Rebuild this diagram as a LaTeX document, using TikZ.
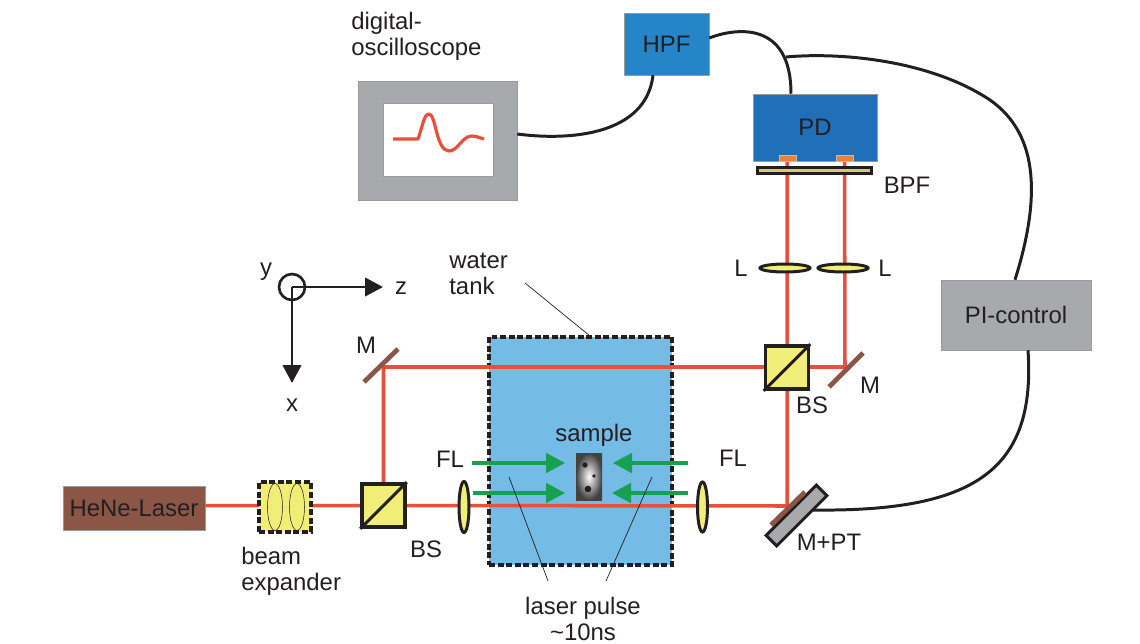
\documentclass[tikz,border=0pt]{standalone}
\usepackage{fontspec}
\setmainfont{Liberation Sans}
\usepackage{xcolor}
\usepackage{tikz}
\usetikzlibrary{arrows.meta,positioning,calc,shapes.geometric}
\definecolor{Ink}{HTML}{231F20}
\definecolor{Case}{HTML}{A7A9AC}
\definecolor{Tank}{HTML}{74BBE6}
\definecolor{Filter}{HTML}{2585C7}
\definecolor{Diode}{HTML}{1F70B8}
\definecolor{Optic}{HTML}{F1EE78}
\definecolor{Brown}{HTML}{8C5647}
\definecolor{Pad}{HTML}{E8823A}
\definecolor{Beam}{HTML}{E8503A}
\definecolor{Pump}{HTML}{17A04F}
\tikzset{
  txt/.style={font=\fontsize{13.6}{14.8}\selectfont,text=Ink,inner sep=0pt,align=left},
  box/.style={inner sep=0pt,font=\fontsize{13.6}{14.8}\selectfont,text=Ink,draw=Ink!45,line width=0.3pt},
  cube/.style={rectangle,draw=Ink,fill=Optic,line width=2pt,minimum size=0.86cm,inner sep=0pt},
  lens/.style={ellipse,draw=Ink,fill=Optic,line width=1.7pt,inner sep=0pt},
  thinlens/.style={ellipse,draw=Ink,line width=0.3pt,inner sep=0pt,minimum width=0.3cm,minimum height=0.94cm},
  beam/.style={draw=Beam,line width=2pt},
  wire/.style={draw=Ink,line width=1.7pt},
  mirror/.style={draw=Brown,line width=2.7pt},
  pump/.style={draw=Pump,line width=1.8pt,-{Triangle[length=3.8mm,width=3.9mm]}},
  axis/.style={draw=Ink,line width=1.5pt,-{Triangle[length=3.6mm,width=3.7mm]}},
  leader/.style={draw=Ink,line width=0.4pt},
  dashbox/.style={draw=Ink,line width=2pt,dash pattern=on 3.4pt off 1.5pt}
}
\begin{document}
\begin{tikzpicture}[x=0.02cm,y=-0.02cm]
  \useasboundingbox (0,0) rectangle (1140,643);
  % water tank first, beams run over it
  \node[dashbox,fill=Tank,minimum width=3.66cm,minimum height=4.56cm,inner sep=0pt] (tank) at (580.5,451) {};

  % boxes
  \node[box,fill=Case,minimum width=3.18cm,minimum height=2.38cm] (osc) at (437.5,140.5) {};
  \node[box,fill=white,minimum width=2.2cm,minimum height=1.46cm] (screen) at (438.5,139.5) {};
  \node[box,fill=Filter,minimum width=1.7cm,minimum height=1.24cm] (hpf) at (666.5,44) {HPF};
  \node[box,fill=Diode,minimum width=2.48cm,minimum height=1.34cm] (pd) at (815,127.5) {};
  \node[txt] (pdlabel) at (815,127) {PD};
  \node[box,fill=Case,minimum width=3cm,minimum height=1.4cm] (pi) at (1016,315) {PI-control};
  \node[box,fill=Brown,minimum width=2.84cm,minimum height=0.88cm] (hene) at (134,508) {HeNe-Laser};

  % anchor points of the beams
  \coordinate (mone) at (383.5,367);
  \coordinate (mtwo) at (845,367);
  \coordinate (mpt) at (787,506);
  \coordinate (pada) at (787,158);
  \coordinate (padb) at (844.5,158);

  % beams
  \node[inner sep=0pt,minimum size=0pt] (bsb) at (787,367.5) {};
  \node[inner sep=0pt,minimum size=0pt] (bsa) at (383.5,505.5) {};
  \draw[beam] (hene.east |- bsa) -- (bsa.center) -- (mpt) -- (bsb.center) -- (pada);
  \draw[beam] (bsa.center) -- (mone) -- (mtwo) -- (padb);

  % expander
  \node[dashbox,fill=Optic,minimum width=1.04cm,minimum height=1cm,inner sep=0pt] (expander) at (285,507) {};
  \node[thinlens] (expa) at (275,507) {};
  \node[thinlens] (expb) at (297,507) {};

  % splitters
  \node[cube] (bsone) at (bsa) {};
  \draw[draw=Ink,line width=1.7pt] (bsone.south west) -- (bsone.north east);
  \node[cube] (bstwo) at (bsb) {};
  \draw[draw=Ink,line width=1.7pt] (bstwo.south west) -- (bstwo.north east);

  % lenses
  \node[lens,minimum width=0.2cm,minimum height=1.02cm] (fla) at (464,507) {};
  \node[lens,minimum width=0.2cm,minimum height=1.0cm] (flb) at (702.5,507) {};
  \node[lens,minimum width=1cm,minimum height=0.16cm] (la) at (785,268) {};
  \node[lens,minimum width=1cm,minimum height=0.16cm] (lb) at (843,268) {};

  % mirrors
  \draw[mirror] (364,382) -- (398,349);
  \draw[mirror] (829,387) -- (863,353);
  \node[draw=Ink,fill=Case,line width=1.7pt,rotate=45,minimum width=1.42cm,minimum height=0.3cm,inner sep=0pt] (pt) at (796.5,515.5) {};
  \draw[mirror] (771,525) -- (805,492);

  % detector parts
  \node[fill=Pad,draw=Ink!30,line width=0.2pt,minimum width=0.34cm,minimum height=0.12cm,inner sep=0pt] (padl) at (787.5,158) {};
  \node[fill=Pad,draw=Ink!30,line width=0.2pt,minimum width=0.34cm,minimum height=0.12cm,inner sep=0pt] (padr) at (844.5,158) {};
  \node[draw=Ink,fill=Optic!85!Ink,line width=1.5pt,minimum width=2.28cm,minimum height=0.12cm,inner sep=0pt] (bpf) at (814.5,170.5) {};

  % sample
  \node[shade,inner color=white,outer color=Ink!85,minimum width=0.52cm,minimum height=0.94cm,inner sep=0pt] (sample) at (589,476.5) {};
  \fill[Ink] (585,465) circle[radius=2.7];
  \fill[Ink] (594,476) circle[radius=1.9];
  \fill[Ink] (588,489) circle[radius=3.3];
  \coordinate (pumpa) at (565,463);
  \coordinate (pumpb) at (565,493);
  \coordinate (pumpc) at (613,463);
  \coordinate (pumpd) at (612,493);
  \draw[pump] (472,463) -- (pumpa);
  \draw[pump] (473,493) -- (pumpb);
  \draw[pump] (688,463) -- (pumpc);
  \draw[pump] (688,493) -- (pumpd);

  % trace on the screen
  \draw[draw=Beam,line width=1.8pt,line join=round] (393,139) -- (418,139) .. controls (423,125) and (424,114) .. (429,114) .. controls (436,114) and (436,151) .. (449,151) .. controls (458,151) and (462,136) .. (472,136) .. controls (476,136) and (480,138) .. (484,139);

  % cables
  \draw[wire] (osc.east |- 0,134) .. controls (570,141) and (646,135) .. (hpf.south -| 653,0);
  \draw[wire] (hpf.east |- 0,38) .. controls (735,28) and (791,20) .. (pd.north -| 791,0);
  \coordinate (join) at (786,57);
  \draw[wire] (join) .. controls (840,52) and (930,60) .. (990,100) .. controls (1040,135) and (1040,200) .. (pi.north -| 1015,0);
  \draw[wire] (pi.south -| 1028,0) .. controls (1036,470) and (975,512) .. (813,510);

  % axes
  \node[draw=Ink,circle,line width=1.5pt,minimum size=0.52cm,inner sep=0pt] (origin) at (292,287) {};
  \coordinate (zend) at (383,287);
  \coordinate (xend) at (292,383);
  \draw[axis] (origin.center) -- (zend);
  \draw[axis] (origin.center) -- (xend);

  % leaders
  \coordinate (tanktip) at (590,336);
  \coordinate (pulsea) at (509,477);
  \coordinate (pulseb) at (652,477);
  \draw[leader] (525,283) -- (tanktip);
  \draw[leader] (pulsea) -- (548,581);
  \draw[leader] (pulseb) -- (606,581);

  % labels
  \node[txt,anchor=west] (scopelabel) at (351,36) {digital-\\oscilloscope};
  \node[txt,anchor=west] (tanklabel) at (449,274) {water\\tank};
  \node[txt] (ylabel) at (266,272) {y};
  \node[txt] (zlabel) at (401,288) {z};
  \node[txt] (xlabel) at (292,405) {x};
  \node[txt] (mlabela) at (366,345) {M};
  \node[txt] (mlabelb) at (870,385) {M};
  \node[txt] (bslabela) at (426,549) {BS};
  \node[txt] (bslabelb) at (812,405) {BS};
  \node[txt] (fllabela) at (450,459) {FL};
  \node[txt] (fllabelb) at (733,458) {FL};
  \node[txt] (samplelabel) at (594,435) {sample};
  \node[txt] (mptlabel) at (829,542) {M+PT};
  \node[txt] (bpflabel) at (907,185) {BPF};
  \node[txt] (llabela) at (741,268) {L};
  \node[txt] (llabelb) at (885,268) {L};
  \node[txt,anchor=west] (expanderlabel) at (241,571) {beam\\expander};
  \node[txt,align=center] (pulselabel) at (583,619) {laser pulse\\\textasciitilde10ns};
\end{tikzpicture}
\end{document}
